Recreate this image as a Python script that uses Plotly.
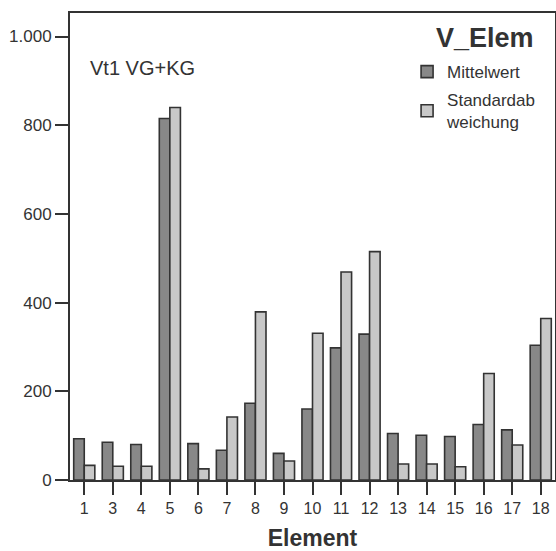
import plotly.graph_objects as go

categories = ["1", "3", "4", "5", "6", "7", "8", "9", "10", "11", "12", "13", "14", "15", "16", "17", "18"]
mittelwert = [93, 85, 80, 815, 82, 67, 173, 60, 160, 298, 329, 105, 101, 98, 125, 113, 304]
standardabweichung = [33, 31, 31, 840, 25, 142, 379, 43, 331, 469, 515, 36, 36, 30, 240, 79, 364]
y_tickvals = [0, 200, 400, 600, 800, 1000]
y_ticktext = ["0", "200", "400", "600", "800", "1.000"]

FONT = "Liberation Sans, Arial, sans-serif"
DARK = "#333333"

fig = go.Figure()
fig.add_trace(go.Bar(
    x=categories, y=mittelwert, name="Mittelwert", legendgroup="m",
    marker=dict(color="#888888", line=dict(color=DARK, width=1.6)),
))
fig.add_trace(go.Bar(
    x=categories, y=standardabweichung, name="Standardab<br>weichung", legendgroup="s",
    marker=dict(color="#c8c8c8", line=dict(color=DARK, width=1.6)),
))

fig.update_layout(
    width=556, height=551,
    margin=dict(l=70, r=1, t=13, b=71),
    paper_bgcolor="white", plot_bgcolor="white",
    font=dict(family=FONT, size=16, color=DARK),
    barmode="group", bargap=0.26, bargroupgap=0,
    showlegend=True,
    legend=dict(
        x=0.695, xanchor="left", y=0.912, yanchor="top",
        font=dict(size=17, color=DARK),
        bgcolor="rgba(0,0,0,0)", tracegroupgap=3,
    ),
    xaxis=dict(
        type="category", range=[-0.5, 16.5], automargin=False,
        showline=True, linecolor=DARK, linewidth=2, mirror=True,
        ticks="outside", ticklen=13, tickwidth=2, tickcolor=DARK,
        showgrid=False, zeroline=False,
        tickfont=dict(size=16, color=DARK),
        title=dict(text="<b>Element</b>", font=dict(size=23, color=DARK), standoff=19),
    ),
    yaxis=dict(
        range=[0, 1053], automargin=False,
        tickvals=y_tickvals, ticktext=y_ticktext,
        showline=True, linecolor=DARK, linewidth=2, mirror=True,
        ticks="outside", ticklen=13, tickwidth=2, tickcolor=DARK,
        showgrid=False, zeroline=False,
        tickfont=dict(size=17, color=DARK),
    ),
    annotations=[
        dict(
            text="Vt1 VG+KG", xref="paper", yref="paper",
            x=(88 - 70) / 485, y=(480 - 68) / 467, xanchor="left", yanchor="middle",
            showarrow=False, font=dict(size=20, color=DARK),
        ),
        dict(
            text="<b>V_Elem</b>", xref="paper", yref="paper",
            x=(536 - 70) / 485, y=(480 - 38) / 467, xanchor="right", yanchor="middle",
            showarrow=False, font=dict(size=27, color=DARK),
        ),
    ],
)

fig.write_html("out.html")
